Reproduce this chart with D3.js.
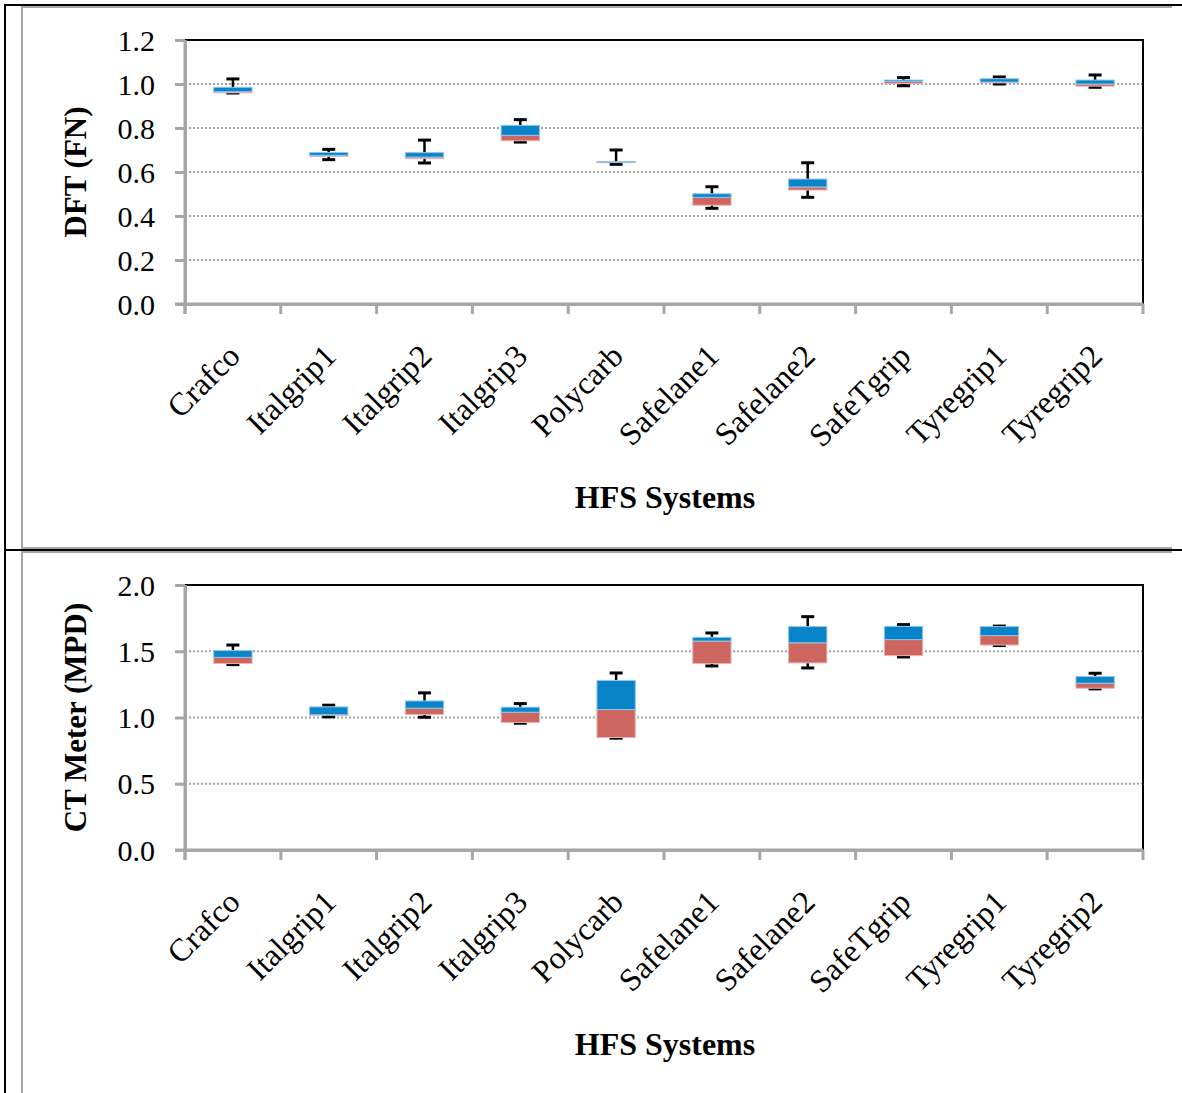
<!DOCTYPE html>
<meta charset="utf-8">
<style>
  body { margin: 0; background: #fff; }
  svg { display: block; }
  .tick text, .lbl { font-family: "Liberation Serif", serif; fill: #000; }
  .title { font-family: "Liberation Serif", serif; font-weight: bold; fill: #000; }
</style>
<body>
<div id="chart"></div>
<script src="https://d3js.org/d3.v7.min.js"></script>
<script>
// HFS systems on the x axis
var categories = ["Crafco", "Italgrip1", "Italgrip2", "Italgrip3", "Polycarb",
  "Safelane1", "Safelane2", "SafeTgrip", "Tyregrip1", "Tyregrip2"];

// DFT (FN) box values
var dftMin    = [0.959, 0.656, 0.641, 0.736, 0.635, 0.435, 0.485, 0.992, 1.000, 0.985];
var dftQ1     = [0.960, 0.671, 0.661, 0.742, 0.644, 0.449, 0.518, 1.002, 1.005, 0.990];
var dftMedian = [0.965, 0.676, 0.668, 0.767, 0.645, 0.485, 0.532, 1.011, 1.009, 1.000];
var dftQ3     = [0.985, 0.689, 0.688, 0.812, 0.647, 0.501, 0.568, 1.018, 1.024, 1.018];
var dftMax    = [1.023, 0.703, 0.745, 0.838, 0.700, 0.533, 0.642, 1.029, 1.032, 1.041];
var dftTicks  = [0, 0.2, 0.4, 0.6, 0.8, 1.0, 1.2];

// CT Meter (MPD) box values
var ctMin    = [1.399, 1.005, 1.002, 0.957, 0.844, 1.389, 1.374, 1.457, 1.543, 1.216];
var ctQ1     = [1.407, 1.020, 1.022, 0.962, 0.849, 1.407, 1.412, 1.467, 1.547, 1.221];
var ctMedian = [1.454, 1.021, 1.070, 1.040, 1.060, 1.577, 1.564, 1.588, 1.618, 1.259];
var ctQ3     = [1.505, 1.080, 1.125, 1.078, 1.279, 1.605, 1.686, 1.688, 1.686, 1.309];
var ctMax    = [1.547, 1.093, 1.186, 1.105, 1.336, 1.638, 1.761, 1.701, 1.690, 1.334];
var ctTicks  = [0, 0.5, 1.0, 1.5, 2.0];

var W = 1182, H = 1093;
var svg = d3.select("#chart").append("svg")
  .attr("width", W)
  .attr("height", H);

svg.append("rect").attr("width", W).attr("height", H).attr("fill", "#fff");

// frame of the page table and the two pasted chart images
var grey = "#a6a6a6";
svg.append("path")
  .attr("d", "M1172,7H22V548H1172M1172,552H22V" + H)
  .attr("fill", "none").attr("stroke", grey).attr("stroke-width", 2);
svg.append("line").attr("x1", 5).attr("x2", W).attr("y1", 5).attr("y2", 5)
  .attr("stroke", "#000").attr("stroke-width", 2);
svg.append("line").attr("x1", 5).attr("x2", W).attr("y1", 550).attr("y2", 550)
  .attr("stroke", "#000").attr("stroke-width", 2);
svg.append("line").attr("x1", 5).attr("x2", 5).attr("y1", 4).attr("y2", H)
  .attr("stroke", "#000").attr("stroke-width", 2);

function drawChart(opt) {
  var left = 185, right = 1143;

  var x = d3.scaleBand()
    .domain(categories)
    .range([left, right])
    .padding(0);

  var y = d3.scaleLinear()
    .domain([0, opt.ticks[opt.ticks.length - 1]])
    .range([opt.bottom, opt.top]);

  var g = svg.append("g");

  // dotted gridlines
  g.selectAll(".grid")
    .data(opt.ticks.slice(1, -1))
    .enter().append("line")
    .attr("x1", left).attr("x2", right)
    .attr("y1", function(d) { return y(d); })
    .attr("y2", function(d) { return y(d); })
    .attr("stroke", "#a0a0a0")
    .attr("stroke-width", 2)
    .attr("stroke-dasharray", "2,2");

  // top and right border of plot area
  g.append("path")
    .attr("d", "M" + left + "," + opt.top + "H" + right + "V" + opt.bottom)
    .attr("fill", "none")
    .attr("stroke", "#000")
    .attr("stroke-width", 2);

  // y axis
  var yAxis = g.append("g")
    .attr("transform", "translate(" + left + ",0)")
    .call(d3.axisLeft(y).tickValues(opt.ticks).tickFormat(d3.format(".1f"))
      .tickSize(10).tickSizeOuter(0).tickPadding(20));
  yAxis.selectAll("text").style("font-size", "30px").attr("dy", "0.34em");

  // x axis, ticks between categories
  var xAxis = g.append("g")
    .attr("transform", "translate(0," + opt.bottom + ")")
    .call(d3.axisBottom(x).tickSize(0).tickSizeOuter(0));
  xAxis.selectAll("text")
    .style("font-size", "32px")
    .style("text-anchor", "end")
    .attr("y", 0).attr("dy", 0)
    .attr("transform", "translate(9,54) rotate(-45)");
  xAxis.selectAll(".sep")
    .data(d3.range(categories.length + 1))
    .enter().append("line")
    .attr("x1", function(i) { return left + i * x.step(); })
    .attr("x2", function(i) { return left + i * x.step(); })
    .attr("y1", 0).attr("y2", 10);

  // extend left axis line down through the first tick
  g.append("line")
    .attr("x1", left).attr("x2", left)
    .attr("y1", opt.top).attr("y2", opt.bottom + 10)
    .attr("stroke", grey).attr("stroke-width", 3);
  g.append("line")
    .attr("x1", left - 10).attr("x2", right)
    .attr("y1", opt.bottom).attr("y2", opt.bottom)
    .attr("stroke", grey).attr("stroke-width", 3);

  g.selectAll(".domain").attr("stroke", grey).attr("stroke-width", 3);
  g.selectAll(".tick line").attr("stroke", grey).attr("stroke-width", 3);
  xAxis.selectAll("line").attr("stroke", grey).attr("stroke-width", 3);

  var rows = categories.map(function(c, i) {
    return { name: c, min: opt.min[i], q1: opt.q1[i], med: opt.med[i], q3: opt.q3[i], max: opt.max[i] };
  });

  var bw = x.bandwidth() * 0.4;
  var capW = 13;
  var cx = function(d) { return x(d.name) + x.bandwidth() / 2; };

  var box = g.selectAll(".box")
    .data(rows)
    .enter().append("g")
    .attr("class", "box");

  // whiskers
  box.append("line")
    .attr("x1", cx).attr("x2", cx)
    .attr("y1", function(d) { return y(d.max); })
    .attr("y2", function(d) { return y(d.min); })
    .attr("stroke", "#000").attr("stroke-width", 2.5);
  box.append("line")
    .attr("x1", function(d) { return cx(d) - capW / 2; })
    .attr("x2", function(d) { return cx(d) + capW / 2; })
    .attr("y1", function(d) { return y(d.max); })
    .attr("y2", function(d) { return y(d.max); })
    .attr("stroke", "#000").attr("stroke-width", 3);
  box.append("line")
    .attr("x1", function(d) { return cx(d) - capW / 2; })
    .attr("x2", function(d) { return cx(d) + capW / 2; })
    .attr("y1", function(d) { return y(d.min); })
    .attr("y2", function(d) { return y(d.min); })
    .attr("stroke", "#000").attr("stroke-width", 3);

  // lower box (Q1 to median)
  box.append("rect")
    .attr("x", function(d) { return cx(d) - bw / 2; })
    .attr("width", bw)
    .attr("y", function(d) { return y(d.med); })
    .attr("height", function(d) { return Math.max(0.5, y(d.q1) - y(d.med)); })
    .attr("fill", "#cd6660")
    .attr("stroke", "#eab3b0").attr("stroke-width", 1);

  // upper box (median to Q3)
  box.append("rect")
    .attr("x", function(d) { return cx(d) - bw / 2; })
    .attr("width", bw)
    .attr("y", function(d) { return y(d.q3); })
    .attr("height", function(d) { return Math.max(0.5, y(d.med) - y(d.q3)); })
    .attr("fill", "#0a84c9")
    .attr("stroke", "#8cc6ec").attr("stroke-width", 1);

  // axis titles
  svg.append("text")
    .attr("class", "title")
    .attr("transform", "translate(86," + ((opt.top + opt.bottom) / 2) + ") rotate(-90)")
    .attr("text-anchor", "middle")
    .style("font-size", "31px")
    .text(opt.yTitle);

  svg.append("text")
    .attr("class", "title")
    .attr("x", 665)
    .attr("y", opt.xTitleY)
    .attr("text-anchor", "middle")
    .style("font-size", "32px")
    .text("HFS Systems");
}

drawChart({ top: 40, bottom: 304, ticks: dftTicks, min: dftMin, q1: dftQ1, med: dftMedian,
  q3: dftQ3, max: dftMax, yTitle: "DFT (FN)", xTitleY: 508 });
drawChart({ top: 585, bottom: 850, ticks: ctTicks, min: ctMin, q1: ctQ1, med: ctMedian,
  q3: ctQ3, max: ctMax, yTitle: "CT Meter (MPD)", xTitleY: 1055 });
</script>
</body>
